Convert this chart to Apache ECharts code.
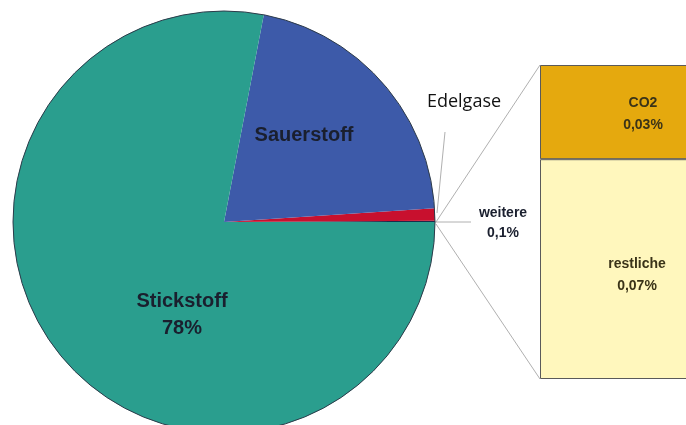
<!DOCTYPE html>
<html><head><meta charset="utf-8">
<script src="https://cdn.jsdelivr.net/npm/echarts@6/dist/echarts.min.js"></script>
<style>html,body{margin:0;padding:0;background:#fff}#c{width:686px;height:425px}</style>
</head><body><div id="c"></div>
<script>
// ---- data ----
const pieNames = ['weitere', 'Edelgase', 'Sauerstoff', 'Stickstoff'];
const pieValues = [0.1, 0.93, 20.95, 78.02];
const pieLabels = ['weitere\n0,1%', 'Edelgase', 'Sauerstoff', 'Stickstoff\n78%'];
const barCategory = ['weitere'];
const barNames = ['restliche', 'CO2'];
const barValues = [0.07, 0.03];
const barLabels = ['restliche\n0,07%', 'CO2\n0,03%'];

// ---- layout / style ----
const CX = 224, CY = 222, R = 211;
const GRID = { left: 540, top: 65, width: 202, height: 314 };
const pieColors = ['#1c2a4a', '#c8102e', '#3d5aa9', '#2a9e8e'];
const barColors = ['#fff7bd', '#e5a90e'];

const labelPos = {
  'Sauerstoff': { x: 304, y: 135 },
  'Stickstoff': { x: 182, y: 315 },
  'Edelgase': { x: 464, y: 102 },
  'weitere': { x: 503, y: 223 }
};
const leaderPts = {
  'Edelgase': [[437, 213], [441, 172], [445, 132]],
  'weitere': [[435, 222], [453, 222], [471, 222]]
};

const chart = echarts.init(document.getElementById('c'), null, { renderer: 'canvas' });

const pieData = pieNames.map((n, i) => {
  const big = (n === 'Sauerstoff' || n === 'Stickstoff');
  const edel = n === 'Edelgase';
  return {
    name: n,
    value: pieValues[i],
    itemStyle: { color: pieColors[i] },
    label: {
      show: true,
      position: big ? 'inside' : 'outside',
      formatter: pieLabels[i],
      color: edel ? '#111' : '#1a1f2e',
      fontFamily: edel ? 'Open Sans' : 'Liberation Sans, Arial, sans-serif',
      fontWeight: edel ? 'normal' : 'bold',
      fontSize: big ? 20 : (edel ? 18 : 14),
      lineHeight: big ? 27 : 20,
      align: 'center'
    },
    labelLine: {
      show: !big,
      lineStyle: { color: '#b0b0b0', width: 1 }
    }
  };
});

const barSeries = barNames.map((n, i) => ({
  name: n,
  type: 'bar',
  stack: 'rest',
  barWidth: '100%',
  data: [barValues[i]],
  itemStyle: { color: barColors[i], borderColor: '#5a5a5a', borderWidth: 1 },
  label: {
    show: true,
    position: 'inside',
    formatter: barLabels[i],
    fontFamily: 'Liberation Sans, Arial, sans-serif',
    fontWeight: 'bold',
    fontSize: 14,
    lineHeight: 22,
    color: '#3a3318',
    offset: n === 'restliche' ? [-4, 6] : [2, 2]
  },
  silent: true
}));

const pieSeries = {
  type: 'pie',
  center: [CX, CY],
  radius: R,
  startAngle: 0,
  clockwise: false,
  minShowLabelAngle: 0,
  avoidLabelOverlap: false,
  silent: true,
  data: pieData,
  labelLayout: function (params) {
    const n = pieNames[params.dataIndex];
    const p = labelPos[n];
    const out = { x: p.x, y: p.y, align: 'center', verticalAlign: 'middle' };
    if (leaderPts[n]) out.labelLinePoints = leaderPts[n];
    return out;
  }
};

// connector lines from pie edge to stacked column corners
const edgeX = CX + R, edgeY = CY;
const graphics = [
  { type: 'circle', shape: { cx: CX, cy: CY, r: R }, style: { fill: 'none', stroke: '#2d3b4a', lineWidth: 1 }, z: 10, silent: true },
  { type: 'line', shape: { x1: edgeX + 1, y1: edgeY, x2: GRID.left, y2: GRID.top }, style: { stroke: '#b0b0b0', lineWidth: 1 }, silent: true },
  { type: 'line', shape: { x1: edgeX + 1, y1: edgeY + 2, x2: GRID.left, y2: GRID.top + GRID.height }, style: { stroke: '#b0b0b0', lineWidth: 1 }, silent: true }
];

chart.setOption({
  animation: false,
  backgroundColor: '#ffffff',
  grid: { left: GRID.left, top: GRID.top, width: GRID.width, height: GRID.height, containLabel: false, outerBoundsMode: 'none' },
  xAxis: { type: 'category', data: barCategory, show: false },
  yAxis: { type: 'value', min: 0, max: 0.1, show: false },
  graphic: graphics,
  series: [pieSeries].concat(barSeries)
});
</script>
</body></html>
